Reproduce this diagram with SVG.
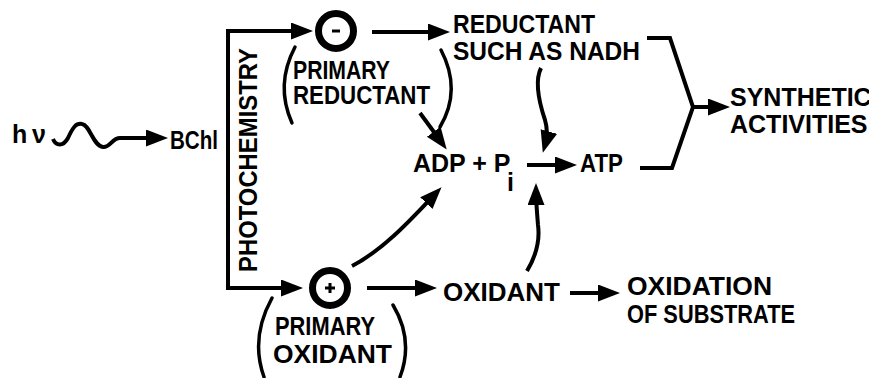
<svg xmlns="http://www.w3.org/2000/svg" width="869" height="378" viewBox="0 0 869 378">
  <defs>
    <style>
      .t { font-family: "Liberation Sans", Arial, sans-serif; font-weight: bold; font-size: 25px; fill: #000; }
      .ln { fill: none; stroke: #000; stroke-width: 4; stroke-linecap: butt; stroke-linejoin: miter; }
      .par { fill: none; stroke: #000; stroke-width: 3.5; stroke-linecap: round; }
      .ring { fill: #fff; stroke: #000; stroke-width: 7; }
      .sign { fill: none; stroke: #000; stroke-width: 3; stroke-linecap: butt; }
    </style>
    <marker id="ah" markerUnits="userSpaceOnUse" markerWidth="24" markerHeight="18" refX="14" refY="8.5" orient="auto">
      <path d="M0,0 L22,8.5 L0,17 Z" fill="#000"/>
    </marker>
  </defs>
  <rect width="869" height="378" fill="#fff"/>

  <g id="connectors">
    <path class="ln" d="M53,139 C56,146 63,147 68,138 C73,127 76,123 82,124 C90,125 93,146 103,147 C110,148 112,138 120,138 L160,138" marker-end="url(#ah)"/>
    <path class="ln" d="M228,160 V31 H305" marker-end="url(#ah)"/>
    <path class="ln" d="M228,150 V288 H295" marker-end="url(#ah)"/>
    <path class="ln" d="M372,32 H442" marker-end="url(#ah)"/>
    <path class="ln" d="M420,113 L442,143" marker-end="url(#ah)"/>
    <path class="ln" d="M541,68 C534,82 540,105 545,120 C548,130 547,138 545,145" marker-end="url(#ah)"/>
    <path class="ln" d="M527,165 H569" marker-end="url(#ah)"/>
    <path class="ln" d="M647,38 H670 L693,107 L672,168 H640"/>
    <path class="ln" d="M691,107 H722" marker-end="url(#ah)"/>
    <path class="ln" d="M367,288 H429" marker-end="url(#ah)"/>
    <path class="ln" d="M570,293 H612" marker-end="url(#ah)"/>
    <path class="ln" d="M352,266 C385,249 415,215 436,193" marker-end="url(#ah)"/>
    <path class="ln" d="M527,271 C536,256 540,240 538,225 C537,213 536,200 536,191" marker-end="url(#ah)"/>
  </g>

  <g id="light">
    <text class="t" x="12" y="143" font-size="20">h</text>
    <text class="t" x="32" y="143" font-size="20">ν</text>
  </g>

  <g id="bchl">
    <text class="t" x="170" y="149" font-size="22" textLength="48" lengthAdjust="spacingAndGlyphs">BChl</text>
  </g>

  <g id="photochemistry">
    <text class="t" transform="translate(257,272) rotate(-90)" x="0" y="0" font-size="26" textLength="224" lengthAdjust="spacingAndGlyphs">PHOTOCHEMISTRY</text>
  </g>

  <g id="primary-reductant">
    <circle class="ring" cx="336" cy="31" r="17.5"/>
    <path class="sign" d="M332,31 H340"/>
    <path class="par" d="M295,47 Q275,85 292,123"/>
    <path class="par" d="M441,50 Q462,90 440,127"/>
    <text class="t" x="293" y="79" font-size="22" textLength="97" lengthAdjust="spacingAndGlyphs">PRIMARY</text>
    <text class="t" x="293" y="104" font-size="22" textLength="137" lengthAdjust="spacingAndGlyphs">REDUCTANT</text>
  </g>

  <g id="reductant-nadh">
    <text class="t" x="453" y="33" textLength="142" lengthAdjust="spacingAndGlyphs">REDUCTANT</text>
    <text class="t" x="453" y="60" textLength="187" lengthAdjust="spacingAndGlyphs">SUCH AS NADH</text>
  </g>

  <g id="adp-pi">
    <text class="t" x="413" y="172" font-size="23">ADP + P</text>
    <text class="t" x="507" y="191" font-size="14">i</text>
  </g>

  <g id="atp">
    <text class="t" x="580" y="172" textLength="43" lengthAdjust="spacingAndGlyphs">ATP</text>
  </g>

  <g id="synthetic-activities">
    <text class="t" x="730" y="106" font-size="22">SYNTHETIC</text>
    <text class="t" x="730" y="133" font-size="22">ACTIVITIES</text>
  </g>

  <g id="primary-oxidant">
    <circle class="ring" cx="330" cy="288" r="17.5"/>
    <path class="sign" d="M325,288 H335 M330,283 V293"/>
    <path class="par" d="M272,298 Q250,338 264,377"/>
    <path class="par" d="M393,305 Q414,340 400,377"/>
    <text class="t" x="275" y="335" font-size="24" textLength="100" lengthAdjust="spacingAndGlyphs">PRIMARY</text>
    <text class="t" x="273" y="363" font-size="24" textLength="119" lengthAdjust="spacingAndGlyphs">OXIDANT</text>
  </g>

  <g id="oxidant">
    <text class="t" x="443" y="301" textLength="117" lengthAdjust="spacingAndGlyphs">OXIDANT</text>
  </g>

  <g id="oxidation-of-substrate">
    <text class="t" x="627" y="295" textLength="145" lengthAdjust="spacingAndGlyphs">OXIDATION</text>
    <text class="t" x="627" y="323" textLength="168" lengthAdjust="spacingAndGlyphs">OF SUBSTRATE</text>
  </g>
</svg>
